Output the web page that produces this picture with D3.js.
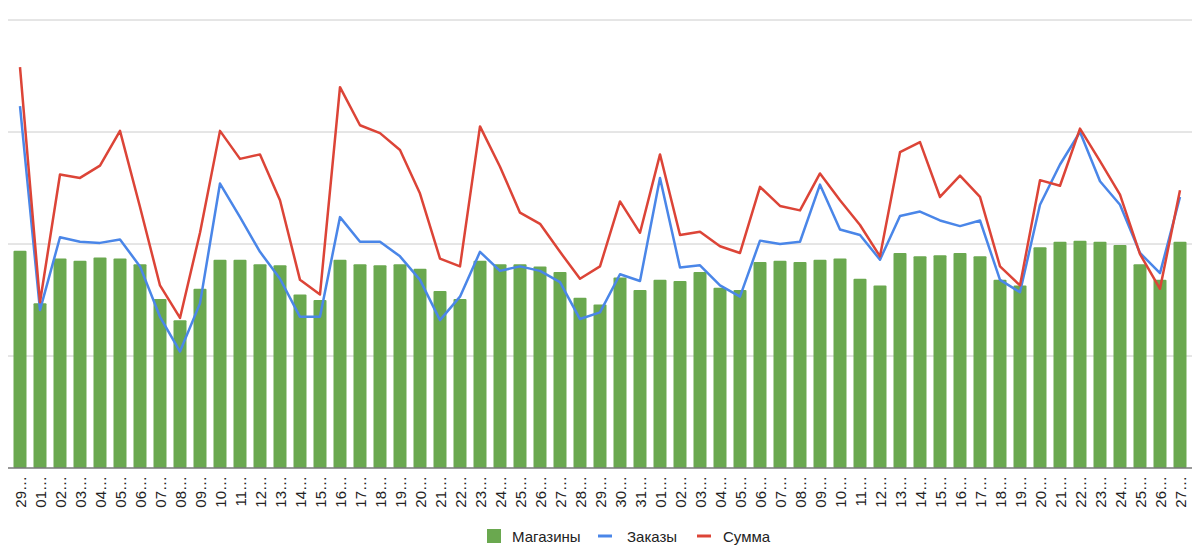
<!DOCTYPE html>
<html><head><meta charset="utf-8">
<script src="https://cdn.jsdelivr.net/npm/d3@7"></script>
<style>body{margin:0;background:#fff;}svg{display:block;font-family:"Liberation Sans",Arial,sans-serif;}</style>
</head><body>
<svg id="c" width="1200" height="558"></svg>
<script>
const categories = ["29","01","02","03","04","05","06","07","08","09","10","11","12","13","14","15","16","17","18","19","20","21","22","23","24","25","26","27","28","29","30","31","01","02","03","04","05","06","07","08","09","10","11","12","13","14","15","16","17","18","19","20","21","22","23","24","25","26","27"];
const magaziny = [194,147,187,185,188,187,182,151,132,160,186,186,182,181,155,150,186,182,181,182,178,158,151,185,182,182,180,175,152,146,170,159,168,167,175,161,159,184,185,184,186,187,169,163,192,189,190,192,189,168,163,197,202,203,202,199,182,168,202];
const zakazy = [323,141,206,202,201,204,180,135,104,147,254,224,193,169,135,135,224,202,202,189,168,132,153,193,176,180,176,166,133,139,173,167,259,179,181,163,153,203,200,202,253,213,208,186,225,229,221,216,221,168,157,235,271,300,256,235,192,174,242];
const summa = [358,148,262,259,270,301,233,163,134,210,301,276,280,239,168,155,340,306,299,284,245,187,180,305,269,228,218,193,169,180,238,210,280,208,211,198,192,251,234,230,263,239,217,189,282,291,242,261,242,180,163,257,252,303,274,244,191,160,248];
const yTicks = [0,100,200,300,400];
const seriesNames = ["Магазины","Заказы","Сумма"];
const colors = ["#6aa84f","#4a86e8","#dc4437"];

const svg = d3.select("#c");
const x = d3.scaleBand().domain(d3.range(categories.length)).range([10,1190]).paddingInner(0.35).paddingOuter(0.175);
const y = d3.scaleLinear().domain([0,400]).range([468,20]);

svg.append("g").selectAll("line").data(yTicks.slice(1)).join("line")
  .attr("x1",8).attr("x2",1192).attr("y1",d=>y(d)).attr("y2",d=>y(d))
  .attr("stroke","#cccccc").attr("stroke-width",1);

svg.append("g").selectAll("rect").data(magaziny).join("rect")
  .attr("x",(d,i)=>x(i)).attr("width",x.bandwidth())
  .attr("y",d=>y(d)).attr("height",d=>y(0)-y(d))
  .attr("fill",colors[0]).attr("rx",1);

const line = d3.line().x((d,i)=>x(i)+x.bandwidth()/2).y(d=>y(d));
svg.append("path").datum(zakazy).attr("d",line).attr("fill","none").attr("stroke",colors[1]).attr("stroke-width",2.5).attr("stroke-linejoin","round");
svg.append("path").datum(summa).attr("d",line).attr("fill","none").attr("stroke",colors[2]).attr("stroke-width",2.5).attr("stroke-linejoin","round");

svg.append("line").attr("x1",8).attr("x2",1192).attr("y1",y(0)).attr("y2",y(0)).attr("stroke","#777").attr("stroke-width",1.5);

svg.append("g").selectAll("text").data(categories).join("text")
  .attr("transform",(d,i)=>`translate(${x(i)+x.bandwidth()/2+5.5},476) rotate(-90)`)
  .attr("text-anchor","end").attr("font-size",15).attr("fill","#222")
  .text(d=>d+"…");

// legend
const lg = svg.append("g");
lg.append("rect").attr("x",487).attr("y",529).attr("width",14).attr("height",14).attr("fill",colors[0]);
lg.append("text").attr("x",512).attr("y",541.5).attr("font-size",15).attr("fill","#222").text(seriesNames[0]);
lg.append("line").attr("x1",598).attr("x2",612).attr("y1",536).attr("y2",536).attr("stroke",colors[1]).attr("stroke-width",3);
lg.append("text").attr("x",627).attr("y",541.5).attr("font-size",15).attr("fill","#222").text(seriesNames[1]);
lg.append("line").attr("x1",697).attr("x2",711).attr("y1",536).attr("y2",536).attr("stroke",colors[2]).attr("stroke-width",3);
lg.append("text").attr("x",723).attr("y",541.5).attr("font-size",15).attr("fill","#222").text(seriesNames[2]);
</script>
</body></html>
